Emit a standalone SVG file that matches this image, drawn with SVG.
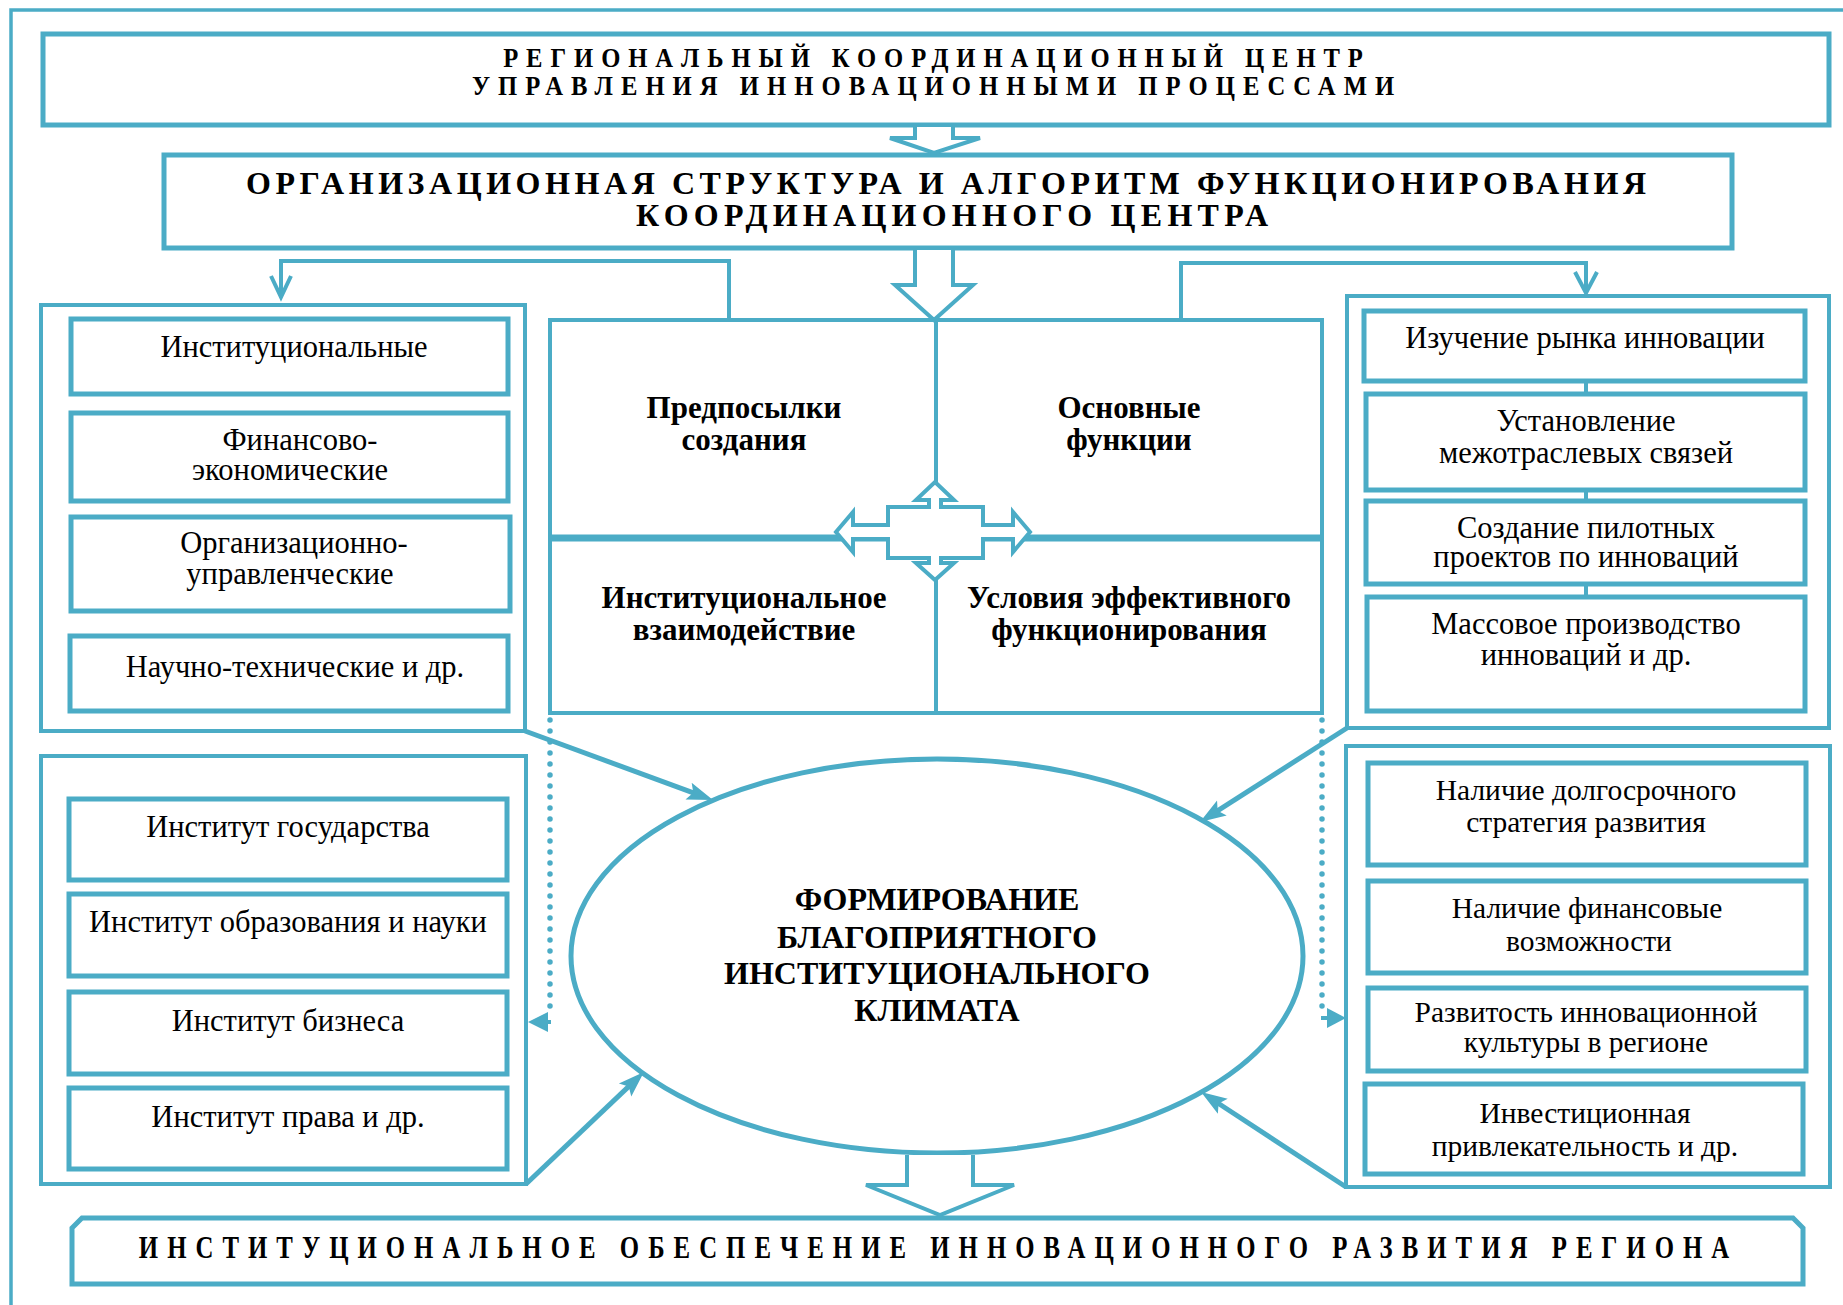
<svg xmlns="http://www.w3.org/2000/svg" width="1843" height="1305" viewBox="0 0 1843 1305">
<defs>
<style>
.frame{fill:none;stroke:#4BACC6;stroke-width:3.5}
.box{fill:#fff;stroke:#4BACC6;stroke-width:5}
.grp{fill:none;stroke:#4BACC6;stroke-width:4}
.ln{fill:none;stroke:#4BACC6;stroke-width:4}
.thick{fill:none;stroke:#4BACC6;stroke-width:5}
.dot{fill:none;stroke:#4BACC6;stroke-width:5.5;stroke-dasharray:0 11;stroke-linecap:round}
.hollow{fill:#fff;stroke:#4BACC6;stroke-width:4;stroke-linejoin:miter}
.head{fill:#4BACC6}
text{font-family:"Liberation Serif","Times New Roman",serif;fill:#000;text-anchor:middle}
.r{font-size:30.5px}
.rs{font-size:29.5px}
.bd{font-size:31px;font-weight:bold}
.cap{font-weight:bold}
</style>
<marker id="ah" markerWidth="28" markerHeight="20" refX="16" refY="10" orient="auto" markerUnits="userSpaceOnUse">
<path d="M0,1 L26,10 L0,19 L5,10 Z" fill="#4BACC6"/>
</marker>
</defs>

<path class="frame" d="M11,1305 V10 H1843"/>

<g id="top-center">
<rect class="box" x="43" y="34" width="1786" height="91"/>
<text class="cap" font-size="28" transform="translate(933,0) scale(0.88,1)" x="0" y="67" textLength="977" lengthAdjust="spacing">РЕГИОНАЛЬНЫЙ КООРДИНАЦИОННЫЙ ЦЕНТР</text>
<text class="cap" font-size="28" transform="translate(933,0) scale(0.88,1)" x="0" y="95" textLength="1048" lengthAdjust="spacing">УПРАВЛЕНИЯ ИННОВАЦИОННЫМИ ПРОЦЕССАМИ</text>
</g>

<g id="org-structure">
<rect class="box" x="164" y="155" width="1568" height="93"/>
<text class="cap" font-size="32" x="946" y="194" textLength="1400" lengthAdjust="spacing">ОРГАНИЗАЦИОННАЯ СТРУКТУРА И АЛГОРИТМ ФУНКЦИОНИРОВАНИЯ</text>
<text class="cap" font-size="32" x="952" y="226" textLength="632" lengthAdjust="spacing">КООРДИНАЦИОННОГО ЦЕНТРА</text>
</g>

<g id="left-upper-group">
<rect class="grp" x="41" y="305" width="484" height="426"/>
<rect class="box" x="71" y="319" width="437" height="75"/>
<text class="r" x="294" y="357">Институциональные</text>
<rect class="box" x="71" y="413" width="437" height="88"/>
<text class="r" x="300" y="450">Финансово-</text>
<text class="r" x="290" y="480">экономические</text>
<rect class="box" x="71" y="517" width="439" height="94"/>
<text class="r" x="294" y="553">Организационно-</text>
<text class="r" x="290" y="584">управленческие</text>
<rect class="box" x="70" y="636" width="438" height="75"/>
<text class="r" x="295" y="677">Научно-технические и др.</text>
</g>

<g id="center-panel">
<rect class="grp" x="550" y="320" width="772" height="393"/>
<line class="ln" x1="936" y1="320" x2="936" y2="713"/>
<line x1="550" y1="538" x2="1322" y2="538" stroke="#4BACC6" stroke-width="7"/>
<polygon class="hollow" points="935,482 954,500 941,500 941,507 983,507 983,525 1013,525 1013,512 1030,532 1013,552 1013,539 983,539 983,558 941,558 941,563 954,563 935,580 916,563 929,563 929,558 888,558 888,539 853,539 853,552 836,532 853,512 853,525 888,525 888,507 929,507 929,500 916,500"/>
<text class="bd" x="744" y="418">Предпосылки</text>
<text class="bd" x="744" y="450">создания</text>
<text class="bd" x="1129" y="418">Основные</text>
<text class="bd" x="1129" y="450">функции</text>
<text class="bd" x="744" y="608">Институциональное</text>
<text class="bd" x="744" y="640">взаимодействие</text>
<text class="bd" x="1129" y="608">Условия эффективного</text>
<text class="bd" x="1129" y="640">функционирования</text>
</g>

<g id="right-upper-group">
<rect class="grp" x="1347" y="296" width="482" height="432"/>
<rect class="box" x="1364" y="311" width="441" height="70"/>
<text class="r" x="1585" y="348">Изучение рынка инновации</text>
<rect class="box" x="1366" y="394" width="439" height="96"/>
<text class="r" x="1586" y="431">Установление</text>
<text class="r" x="1586" y="463">межотраслевых связей</text>
<rect class="box" x="1366" y="501" width="439" height="83"/>
<text class="r" x="1586" y="538">Создание пилотных</text>
<text class="r" x="1586" y="567">проектов по инноваций</text>
<rect class="box" x="1367" y="597" width="438" height="114"/>
<text class="r" x="1586" y="634">Массовое производство</text>
<text class="r" x="1586" y="665">инноваций и др.</text>
</g>

<g id="left-lower-group">
<rect class="grp" x="41" y="756" width="485" height="428"/>
<rect class="box" x="69" y="799" width="438" height="81"/>
<text class="r" x="288" y="837">Институт государства</text>
<rect class="box" x="69" y="894" width="438" height="82"/>
<text class="r" x="288" y="932">Институт образования и науки</text>
<rect class="box" x="69" y="992" width="438" height="82"/>
<text class="r" x="288" y="1031">Институт бизнеса</text>
<rect class="box" x="69" y="1088" width="438" height="81"/>
<text class="r" x="288" y="1127">Институт права и др.</text>
</g>

<g id="right-lower-group">
<rect class="grp" x="1346" y="746" width="484" height="441"/>
<rect class="box" x="1368" y="763" width="438" height="102"/>
<text class="rs" x="1586" y="800">Наличие долгосрочного</text>
<text class="rs" x="1586" y="832">стратегия развития</text>
<rect class="box" x="1368" y="881" width="438" height="92"/>
<text class="rs" x="1587" y="918">Наличие финансовые</text>
<text class="rs" x="1589" y="951">возможности</text>
<rect class="box" x="1368" y="988" width="438" height="83"/>
<text class="rs" x="1586" y="1022">Развитость инновационной</text>
<text class="rs" x="1586" y="1052">культуры в регионе</text>
<rect class="box" x="1365" y="1084" width="438" height="90"/>
<text class="rs" x="1585" y="1123">Инвестиционная</text>
<text class="rs" x="1585" y="1156">привлекательность и др.</text>
</g>

<g id="climate">
<ellipse cx="937" cy="956" rx="366" ry="197" fill="#fff" stroke="#4BACC6" stroke-width="5"/>
<text class="cap" font-size="32" x="937" y="910">ФОРМИРОВАНИЕ</text>
<text class="cap" font-size="32" x="937" y="948">БЛАГОПРИЯТНОГО</text>
<text class="cap" font-size="32" x="937" y="984">ИНСТИТУЦИОНАЛЬНОГО</text>
<text class="cap" font-size="32" x="937" y="1021">КЛИМАТА</text>
</g>

<g id="result">
<path class="box" d="M72,1228 L82,1218 H1793 L1803,1228 V1284 H72 Z"/>
<text class="cap" font-size="31" transform="translate(934,0) scale(0.8,1)" x="0" y="1258" textLength="1988" lengthAdjust="spacing">ИНСТИТУЦИОНАЛЬНОЕ ОБЕСПЕЧЕНИЕ ИННОВАЦИОННОГО РАЗВИТИЯ РЕГИОНА</text>
</g>

<g id="connectors">
<path class="hollow" d="M915,127 V138 H890 L934,153 L980,138 H953 V127"/>
<path class="hollow" d="M915,250 V285 H895 L934,320 L973,285 H953 V250"/>
<path class="ln" d="M729,320 V261 H281 V296"/>
<polyline class="ln" points="271,276 281,297 291,276"/>
<path class="ln" d="M1181,320 V263 H1586 V292"/>
<polyline class="ln" points="1575,272 1586,293 1597,272"/>
<line class="ln" x1="1586" y1="383" x2="1586" y2="392"/>
<line class="ln" x1="1586" y1="492" x2="1586" y2="499"/>
<line class="ln" x1="1586" y1="586" x2="1586" y2="595"/>
<line class="thick" x1="525" y1="731" x2="703.6" y2="796.6" marker-end="url(#ah)"/>
<line class="thick" x1="1347" y1="728" x2="1208.4" y2="816.6" marker-end="url(#ah)"/>
<line class="thick" x1="526" y1="1184" x2="636.7" y2="1078.9" marker-end="url(#ah)"/>
<line class="thick" x1="1346" y1="1187" x2="1209.4" y2="1097.5" marker-end="url(#ah)"/>
<line class="dot" x1="550" y1="720" x2="550" y2="1016"/>
<line class="ln" x1="551" y1="1022" x2="544" y2="1022"/>
<polygon class="head" points="528,1022 548,1012 548,1032"/>
<line class="dot" x1="1322" y1="720" x2="1322" y2="1012"/>
<line class="ln" x1="1321" y1="1018" x2="1329" y2="1018"/>
<polygon class="head" points="1346,1018 1327,1008 1327,1028"/>
<path class="hollow" d="M907,1155 V1185 H866 L940,1215 L1014,1185 H973 V1155"/>
</g>
</svg>
